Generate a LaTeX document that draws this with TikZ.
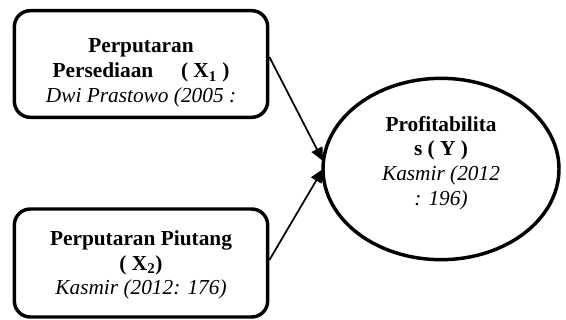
\documentclass[tikz,border=0pt]{standalone}
\usepackage{fontspec}
\setmainfont{Liberation Serif}
\usetikzlibrary{shapes.geometric,arrows.meta}
\tikzset{
  varbox/.style={draw, line width=2.6pt, rounded corners=12pt, minimum width=190pt, minimum height=80pt, inner sep=0pt},
  yell/.style={draw, ellipse, line width=2.6pt, minimum width=177pt, minimum height=136pt, inner sep=0pt},
  txt/.style={align=center, inner sep=0pt, font=\fontsize{16}{18.6}\selectfont}
}
\begin{document}
\begin{tikzpicture}[x=0.75pt,y=-0.75pt]
\useasboundingbox (0,0) rectangle (566,320);
\node[varbox] (x1) at (141,64) {};
\node[txt] (x1t) at (141,73) {\textbf{Perputaran}\\\textbf{Persediaan\hspace{1.3em}( X\textsubscript{1} )}\\\textit{Dwi Prastowo (2005 :}};
\node[varbox, minimum height=81pt] (x2) at (141,263) {};
\node[txt] (x2t) at (141,265) {\textbf{Perputaran Piutang}\\\textbf{( X\textsubscript{2})}\\\textit{Kasmir (2012: 176)}};
\node[yell] (y) at (441,169) {};
\node[txt] (yt) at (441,163) {\textbf{Profitabilita}\\\textbf{s ( Y )}\\\textit{Kasmir (2012}\\\textit{: 196)}};
\coordinate (t1) at (323,161);
\coordinate (t2) at (323,169);
\draw[line width=1.3pt, -{Triangle[length=10pt,width=9pt]}] (x1.east |- 0,57) -- (t1);
\draw[line width=1.3pt, -{Triangle[length=10pt,width=9pt]}] (x2.east |- 0,260) -- (t2);
\end{tikzpicture}
\end{document}
